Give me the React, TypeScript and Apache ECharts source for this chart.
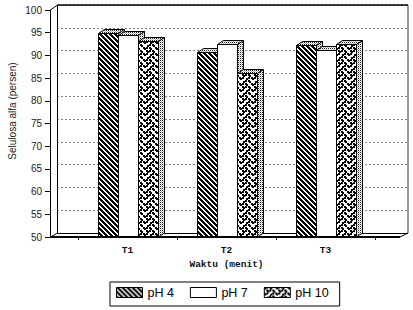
import React, { useEffect, useRef } from 'react';
import * as echarts from 'echarts';

const categories = ['T1', 'T2', 'T3'];
const seriesNames = ['pH 4', 'pH 7', 'pH 10'];
const ph4 = [94.9, 90.7, 92.3];
const ph7 = [94.6, 92.5, 91.2];
const ph10 = [93.2, 86.2, 92.5];
const seriesValues = [ph4, ph7, ph10];
const Y_MIN = 50;
const Y_MAX = 100;
const Y_STEP = 5;
const xTitle = 'Waktu (menit)';
const yTitle = 'Selulosa alfa (persen)';

// layout (pixels)
const FRONT_LEFT = 50.5;
const FRONT_TOP = 10;
const FRONT_BOTTOM = 237;
const FRONT_RIGHT = 400;
const BACK_LEFT = 57.5;
const BACK_TOP = 5;
const BACK_BOTTOM = 233;
const BACK_RIGHT = 408;
const BAR_W = 20;
const DX = 6;
const DY = 4;

function makeTile(w: number, h: number, draw: (ctx: CanvasRenderingContext2D) => void) {
  const c = document.createElement('canvas');
  c.width = w;
  c.height = h;
  const ctx = c.getContext('2d') as CanvasRenderingContext2D;
  ctx.fillStyle = '#fff';
  ctx.fillRect(0, 0, w, h);
  ctx.fillStyle = '#000';
  draw(ctx);
  return { image: c.toDataURL(), imageWidth: w, imageHeight: h, repeat: 'repeat' } as any;
}

function hatchPattern() {
  return makeTile(5, 5, (ctx) => {
    for (let y = 0; y < 5; y++) {
      for (let x = 0; x < 5; x++) {
        if ((((x - y) % 5) + 5) % 5 < 3) ctx.fillRect(x, y, 1, 1);
      }
    }
  });
}

function weavePattern() {
  const rows = [0x88, 0x54, 0x22, 0x45, 0x88, 0x14, 0x22, 0x51];
  const s = 1.5;
  const T = 12;
  return makeTile(T, T, (ctx) => {
    for (let r = 0; r < 8; r++) {
      for (let c = 0; c < 8; c++) {
        if (rows[r] & (0x80 >> c)) {
          for (const ox of [0, T, -T]) {
            for (const oy of [0, T, -T]) {
              ctx.fillRect(Math.round(c * s) + ox, Math.round(r * s) + oy, 2, 2);
            }
          }
        }
      }
    }
  });
}

function stipplePattern() {
  return makeTile(2, 2, (ctx) => {
    ctx.fillStyle = '#222';
    ctx.fillRect(0, 0, 1, 1);
    ctx.fillStyle = '#bbb';
    ctx.fillRect(1, 1, 1, 1);
  });
}

export default function App() {
  const ref = useRef<HTMLDivElement>(null);

  useEffect(() => {
    document.body.style.margin = '0';
    if (!ref.current) return;
    const chart = echarts.init(ref.current, null, { renderer: 'svg' });

    const fills = [hatchPattern(), '#fff', weavePattern()];
    const face = stipplePattern();

    const makeRender = (si: number) => (params: any, api: any) => {
      const cat = api.value(0);
      const val = api.value(1);
      const top = api.coord([cat, val]);
      const base = api.coord([cat, Y_MIN]);
      const x0 = Math.round(top[0] + (si - 1.5) * BAR_W) + 0.5;
      const yt = Math.round(top[1]) + 0.5;
      const yb = base[1];
      const x1 = x0 + BAR_W;
      return {
        type: 'group',
        children: [
          {
            type: 'rect',
            shape: { x: x0, y: yt, width: BAR_W, height: yb - yt },
            style: { fill: fills[si], stroke: '#000', lineWidth: 1 },
          },
          {
            type: 'polygon',
            shape: { points: [[x0, yt], [x0 + DX, yt - DY], [x1 + DX, yt - DY], [x1, yt]] },
            style: { fill: face, stroke: '#000', lineWidth: 1 },
          },
          {
            type: 'polygon',
            shape: { points: [[x1, yt], [x1 + DX, yt - DY], [x1 + DX, yb - DY], [x1, yb]] },
            style: { fill: face, stroke: '#000', lineWidth: 1 },
          },
        ],
      };
    };

    const lineEl = (x1: number, y1: number, x2: number, y2: number, w: number, z: number) => ({
      type: 'line',
      z,
      shape: { x1, y1, x2, y2 },
      style: { stroke: '#000', lineWidth: w },
      silent: true,
    });

    chart.setOption({
      animation: false,
      backgroundColor: '#fff',
      grid: [
        { left: 78, right: 38, top: FRONT_TOP, bottom: 310 - FRONT_BOTTOM },
        { left: BACK_LEFT, right: 413 - BACK_RIGHT, top: BACK_TOP, bottom: 310 - BACK_BOTTOM },
      ],
      xAxis: [
        {
          type: 'category',
          gridIndex: 0,
          data: categories,
          axisLine: { show: false },
          axisTick: { show: true, length: 3, lineStyle: { color: '#000' } },
          axisLabel: {
            fontFamily: 'Liberation Mono',
            fontWeight: 'bold',
            fontSize: 9.5,
            color: '#111',
            margin: 8,
          },
          name: xTitle,
          nameLocation: 'middle',
          nameGap: 18,
          nameTextStyle: {
            fontFamily: 'Liberation Mono',
            fontWeight: 'bold',
            fontSize: 9.5,
            color: '#111',
          },
        },
        { type: 'category', gridIndex: 1, data: categories, show: false },
      ],
      yAxis: [
        {
          type: 'value',
          gridIndex: 0,
          min: Y_MIN,
          max: Y_MAX,
          interval: Y_STEP,
          offset: 28,
          axisLine: { show: true, lineStyle: { color: '#000', width: 1 } },
          axisTick: { show: true, length: 5, lineStyle: { color: '#000' } },
          axisLabel: { fontFamily: 'Liberation Sans', fontSize: 10, color: '#222', margin: 8 },
          splitLine: { show: false },
        },
        {
          type: 'value',
          gridIndex: 1,
          min: Y_MIN,
          max: Y_MAX,
          interval: Y_STEP,
          axisLine: { show: false },
          axisTick: { show: false },
          axisLabel: { show: false },
          splitLine: { show: true, lineStyle: { color: '#000', width: 1, type: [1, 3] } },
        },
      ],
      legend: {
        left: 110,
        top: 282,
        orient: 'horizontal',
        padding: [4, 11, 7, 6],
        borderColor: '#000',
        borderWidth: 1,
        itemWidth: 26,
        itemHeight: 10,
        itemGap: 16,
        selectedMode: false,
        textStyle: { fontFamily: 'Liberation Sans', fontSize: 12.5, color: '#000' },
        data: seriesNames.map((n, i) => ({
          name: n,
          icon: 'rect',
          itemStyle: { color: fills[i], borderColor: '#000', borderWidth: 1 },
        })),
      },
      graphic: [
        lineEl(FRONT_LEFT, FRONT_TOP, BACK_LEFT, BACK_TOP, 1, 1),
        lineEl(BACK_LEFT, BACK_TOP, BACK_RIGHT, BACK_TOP, 1.5, 1),
        lineEl(BACK_LEFT, BACK_TOP, BACK_LEFT, BACK_BOTTOM, 1, 1),
        lineEl(BACK_LEFT, BACK_BOTTOM + 0.5, BACK_RIGHT, BACK_BOTTOM + 0.5, 1, 1),
        lineEl(BACK_RIGHT, BACK_TOP, BACK_RIGHT, BACK_BOTTOM, 0.8, 1),
        lineEl(FRONT_LEFT, FRONT_BOTTOM, BACK_LEFT, BACK_BOTTOM, 1, 10),
        lineEl(FRONT_RIGHT, FRONT_BOTTOM, BACK_RIGHT, BACK_BOTTOM, 1, 10),
        lineEl(FRONT_LEFT, FRONT_BOTTOM, FRONT_RIGHT, FRONT_BOTTOM, 2, 10),
        {
          type: 'text',
          z: 10,
          x: 12,
          y: 111,
          rotation: Math.PI / 2,
          style: {
            text: yTitle,
            fontFamily: 'Liberation Sans',
            fontSize: 10,
            fill: '#222',
            align: 'center',
            verticalAlign: 'middle',
          },
        },
      ],
      series: seriesNames.map((n, si) => ({
        type: 'custom',
        name: n,
        xAxisIndex: 0,
        yAxisIndex: 0,
        z: 2,
        data: seriesValues[si].map((v, i) => [i, v]),
        encode: { x: 0, y: 1 },
        itemStyle: { color: fills[si] },
        renderItem: makeRender(si),
      })),
    });

    return () => chart.dispose();
  }, []);

  return <div ref={ref} style={{ width: 413, height: 310 }} />;
}
